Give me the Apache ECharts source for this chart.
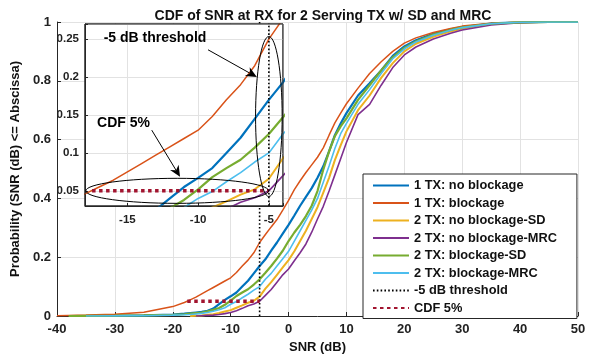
<!DOCTYPE html>
<html><head><meta charset="utf-8">
<script src="https://cdn.jsdelivr.net/npm/echarts@6/dist/echarts.min.js"></script>
<style>html,body{margin:0;padding:0;background:#fff}#c{width:595px;height:364px}</style>
</head><body><div id="c"></div>
<script>
// ---- data ----
const snr = [-40,-38,-35,-30,-25,-20,-18,-17,-16,-15,-14,-13,-12,-11,-10,-9,-8,-7,-6,-5,-4,-3,-2,-1,0,1,2,3,4,5,6,7,8,9,10,12,14,16,18,20,22,25,28,30,35,40,45,50];
const p1txNoBlk = [null,null,0,0.001,0.002,0.005,0.008,0.01,0.012,0.014,0.018,0.025,0.04,0.055,0.067,0.08,0.1,0.12,0.145,0.17,0.193,0.222,0.25,0.28,0.31,0.342,0.375,0.405,0.435,0.47,0.509,0.56,0.615,0.655,0.69,0.75,0.792,0.835,0.885,0.917,0.938,0.96,0.975,0.983,0.995,0.999,1,1];
const p1txBlk = [0.001,0.002,0.003,0.006,0.013,0.032,0.046,0.055,0.064,0.075,0.086,0.097,0.108,0.119,0.13,0.148,0.17,0.19,0.215,0.25,0.277,0.303,0.328,0.36,0.393,0.43,0.46,0.488,0.514,0.54,0.572,0.615,0.657,0.69,0.722,0.775,0.825,0.865,0.9,0.928,0.946,0.964,0.978,0.986,0.996,0.999,1,1];
const p2txNoBlkSD = [null,null,null,null,null,null,null,0,0.001,0.002,0.004,0.006,0.01,0.015,0.02,0.028,0.036,0.045,0.052,0.066,0.093,0.115,0.14,0.165,0.19,0.22,0.255,0.29,0.33,0.37,0.42,0.47,0.53,0.58,0.628,0.7,0.75,0.81,0.86,0.9,0.926,0.95,0.968,0.978,0.993,0.999,1,1];
const p2txNoBlkMRC = [null,null,null,null,null,null,null,null,0,0.001,0.002,0.003,0.005,0.008,0.012,0.018,0.026,0.035,0.041,0.05,0.07,0.09,0.115,0.14,0.16,0.188,0.215,0.245,0.285,0.33,0.373,0.425,0.48,0.535,0.59,0.685,0.72,0.785,0.845,0.888,0.915,0.942,0.962,0.973,0.99,0.998,1,1];
const p2txBlkSD = [null,0,0.0005,0.001,0.002,0.004,0.006,0.008,0.01,0.012,0.016,0.021,0.027,0.038,0.052,0.068,0.08,0.091,0.107,0.125,0.147,0.17,0.195,0.222,0.255,0.284,0.31,0.34,0.375,0.425,0.498,0.56,0.612,0.645,0.672,0.735,0.785,0.835,0.88,0.912,0.934,0.957,0.973,0.982,0.994,0.999,1,1];
const p2txBlkMRC = [null,null,0,0.0005,0.001,0.003,0.004,0.005,0.007,0.009,0.012,0.016,0.021,0.028,0.04,0.049,0.062,0.074,0.088,0.1,0.125,0.145,0.17,0.195,0.22,0.255,0.29,0.325,0.36,0.4,0.455,0.51,0.57,0.62,0.655,0.72,0.77,0.825,0.875,0.908,0.932,0.955,0.972,0.981,0.994,0.999,1,1];
const thresholdX = [-5, -5];
const thresholdY = [0, 1];
const cdf5X = [-17.5, -5];
const cdf5Y = [0.05, 0.05];
const seriesNames = ['1 TX: no blockage','1 TX: blockage','2 TX: no blockage-SD','2 TX: no blockage-MRC','2 TX: blockage-SD','2 TX: blockage-MRC','-5 dB threshold','CDF 5%'];
const mainXRange = [-40, 50];
const mainYRange = [0, 1];
const insetXRange = [-18, -4];
const insetYRange = [0.03, 0.27];
// annotations in inset data coordinates
const ellipseThreshold = [-5, 0.148, 0.94, 0.1055];   // cx, cy, rx, ry
const ellipseCdf = [-11.48, 0.05, 6.46, 0.0165];
const labelThreshold = ['-5 dB threshold', -13.05, 0.2515];
const labelCdf = ['CDF 5%', -15.28, 0.139];
const arrowThreshold = [-9.3, 0.236, -5.85, 0.2];
const arrowCdf = [-13.28, 0.13, -11.28, 0.0685];

// ---- chart ----
const FF = '"Liberation Sans", Arial, Helvetica, sans-serif';
const colors = ['#0072BD','#D95319','#EDB120','#7E2F8E','#77AC30','#4DBEEE','#000000','#A2142F'];
const widths = [2.2,1.5,2,1.6,2.2,1.6,1.6,3.5];
const curves = [p1txNoBlk,p1txBlk,p2txNoBlkSD,p2txNoBlkMRC,p2txBlkSD,p2txBlkMRC];
function pairs(xs, ys){ return xs.map((x,i)=>[x, ys[i]]); }
const allData = curves.map(c => pairs(snr, c)).concat([pairs(thresholdX, thresholdY), pairs(cdf5X, cdf5Y)]);

const chart = echarts.init(document.getElementById('c'), null, {renderer:'canvas'});
const series = [];
[0,1].forEach(g => {
  allData.forEach((d, i) => {
    const ls = {color: colors[i], width: widths[i]};
    if (i === 6) ls.type = [1.6, 2.2];
    if (i === 7) ls.type = [3.5, 3.5];
    series.push({
      type:'line', name: seriesNames[i], data: d, xAxisIndex: g, yAxisIndex: g,
      symbol:'none', showSymbol:false, connectNulls:false, animation:false,
      lineStyle: ls, itemStyle:{color: colors[i]}, z: g ? 12 : 2, clip: true
    });
  });
});

const gridLine = {show:true, lineStyle:{color:'#e2e2e2', width:1}};
const axLabel = {fontFamily:FF, fontWeight:'bold', fontSize:13, color:'#222'};
const inLabel = {fontFamily:FF, fontWeight:'bold', fontSize:11.5, color:'#222'};

chart.setOption({
  animation:false,
  backgroundColor:'#fff',
  title:{text:'CDF of SNR at RX for 2 Serving TX w/ SD and MRC', left:318, top:4, textAlign:'center',
    textStyle:{fontFamily:FF, fontWeight:'bold', fontSize:14, color:'#111'}},
  legend:{orient:'vertical', left:363, top:174, itemWidth:36, itemHeight:14, itemGap:4.5,
    padding:[5,20,4,9], backgroundColor:'#fff', borderColor:'#262626', borderWidth:1,
    itemStyle:{opacity:0, borderWidth:0},
    textStyle:{fontFamily:FF, fontWeight:'bold', fontSize:12.8, color:'#111'},
    data: seriesNames, z:20, selectedMode:false},
  grid:[
    {left:57, right:17, top:22, bottom:48, show:false, z:0},
    {left:85, top:24, width:198, height:182, show:true, backgroundColor:'#fff', borderColor:'#262626', borderWidth:1, z:10}
  ],
  xAxis:[
    {type:'value', gridIndex:0, min:mainXRange[0], max:mainXRange[1], interval:10,
      name:'SNR (dB)', nameLocation:'middle', nameGap:25,
      nameTextStyle:{fontFamily:FF, fontWeight:'bold', fontSize:13, color:'#111'},
      axisLine:{show:true, onZero:false, lineStyle:{color:'#262626'}},
      axisTick:{show:true, inside:true, length:4, lineStyle:{color:'#262626'}},
      axisLabel:Object.assign({margin:7}, axLabel), splitLine:gridLine},
    {type:'value', gridIndex:1, min:insetXRange[0], max:insetXRange[1], splitNumber:3,
      axisLine:{show:true, onZero:false, lineStyle:{color:'#262626'}},
      axisTick:{show:true, inside:true, length:3, lineStyle:{color:'#262626'}},
      axisLabel:Object.assign({margin:8, formatter: v => (Math.abs(v % 5) < 1e-9 ? String(v) : '')}, inLabel),
      splitLine:gridLine, z:11}
  ],
  yAxis:[
    {type:'value', gridIndex:0, min:mainYRange[0], max:mainYRange[1], interval:0.2,
      name:'Probability (SNR (dB) <= Abscissa)', nameLocation:'middle', nameGap:32,
      nameTextStyle:{fontFamily:FF, fontWeight:'bold', fontSize:13, color:'#111'},
      axisLine:{show:true, onZero:false, lineStyle:{color:'#262626'}},
      axisTick:{show:true, inside:true, length:4, lineStyle:{color:'#262626'}},
      axisLabel:Object.assign({margin:6}, axLabel), splitLine:gridLine},
    {type:'value', gridIndex:1, min:insetYRange[0], max:insetYRange[1], splitNumber:5,
      axisLine:{show:true, onZero:false, lineStyle:{color:'#262626'}},
      axisTick:{show:true, inside:true, length:3, lineStyle:{color:'#262626'}},
      axisLabel:Object.assign({margin:6, formatter: v => {const k = v*20; return Math.abs(k-Math.round(k))<1e-6 ? String(+v.toFixed(2)) : '';}}, inLabel),
      splitLine:gridLine, z:11}
  ],
  series: series
});

// ---- annotations positioned through the inset's coordinate system ----
const P = (x, y) => chart.convertToPixel({gridIndex:1}, [x, y]);
function ell(e){
  const c = P(e[0], e[1]), r1 = P(e[0]+e[2], e[1]), r2 = P(e[0], e[1]+e[3]);
  return {type:'ellipse', z:100, silent:true, shape:{cx:c[0], cy:c[1], rx:Math.abs(r1[0]-c[0]), ry:Math.abs(c[1]-r2[1])},
    style:{fill:null, stroke:'#000', lineWidth:1}};
}
function txt(t){
  const c = P(t[1], t[2]);
  return {type:'text', z:100, silent:true, x:c[0], y:c[1],
    style:{text:t[0], fill:'#000', font:'bold 14px ' + FF, align:'center', verticalAlign:'middle'}};
}
function arrow(a){
  const s = P(a[0], a[1]), e = P(a[2], a[3]);
  const dx = e[0]-s[0], dy = e[1]-s[1], L = Math.hypot(dx, dy);
  const ux = dx/L, uy = dy/L, px = -uy, py = ux;
  const hl = 11, hw = 5;
  const b = [e[0]-ux*hl, e[1]-uy*hl];
  const n = [e[0]-ux*hl*0.7, e[1]-uy*hl*0.7];
  return [
    {type:'line', z:100, silent:true, shape:{x1:s[0], y1:s[1], x2:n[0], y2:n[1]}, style:{stroke:'#000', lineWidth:1}},
    {type:'polygon', z:100, silent:true, shape:{points:[[e[0],e[1]],[b[0]+px*hw,b[1]+py*hw],[n[0],n[1]],[b[0]-px*hw,b[1]-py*hw]]}, style:{fill:'#000'}}
  ];
}
const tl = P(insetXRange[0], insetYRange[1]), br = P(insetXRange[1], insetYRange[0]);
chart.setOption({graphic:[
  {type:'rect', z:99, silent:true, shape:{x:tl[0], y:tl[1], width:br[0]-tl[0], height:br[1]-tl[1]}, style:{fill:null, stroke:'#262626', lineWidth:1}},
  ell(ellipseThreshold), ell(ellipseCdf), txt(labelThreshold), txt(labelCdf)
].concat(arrow(arrowThreshold), arrow(arrowCdf))});
</script>
</body></html>
